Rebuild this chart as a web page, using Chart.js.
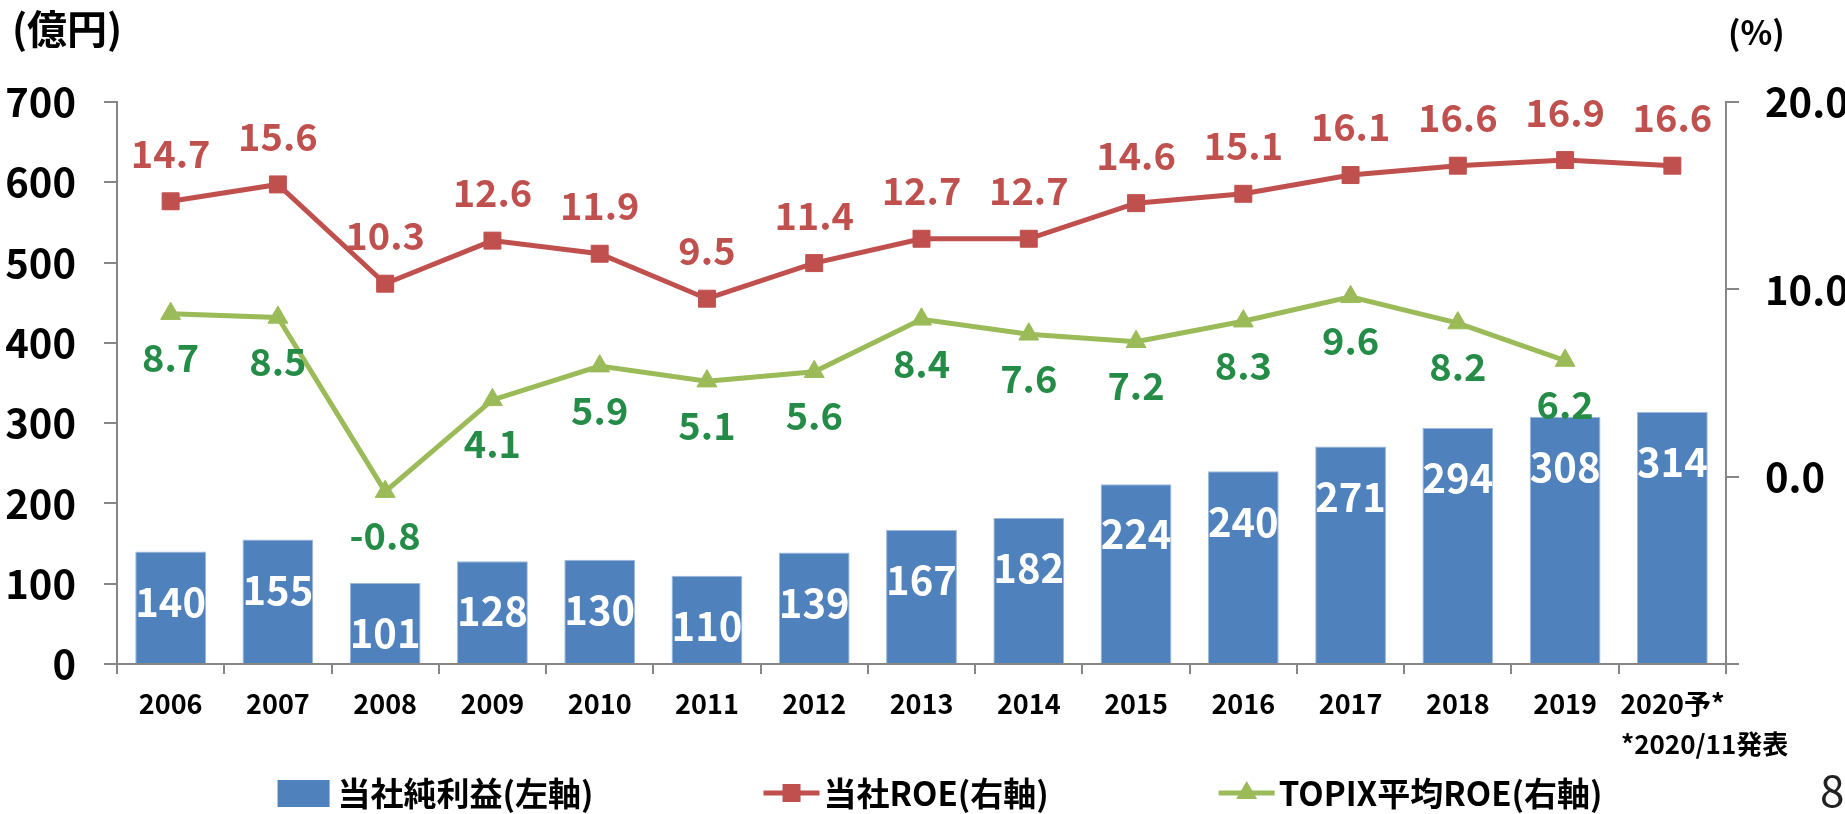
<!DOCTYPE html>
<html>
<head>
<meta charset="utf-8">
<script src="https://cdn.jsdelivr.net/npm/chart.js@4.4.0/dist/chart.umd.min.js"></script>
<style>
    body { margin: 0; background: #fff; }
</style>
</head>
<body>
<canvas id="roeChart" width="1845" height="814"></canvas>
<script>
const years = ["2006", "2007", "2008", "2009", "2010", "2011", "2012", "2013",
    "2014", "2015", "2016", "2017", "2018", "2019", "2020予*"];
const netIncome = [140, 155, 101, 128, 130, 110, 139, 167, 182, 224, 240, 271, 294, 308, 314];
const companyRoe = [14.7, 15.6, 10.3, 12.6, 11.9, 9.5, 11.4, 12.7, 12.7, 14.6, 15.1, 16.1, 16.6, 16.9, 16.6];
const topixRoe = [8.7, 8.5, -0.8, 4.1, 5.9, 5.1, 5.6, 8.4, 7.6, 7.2, 8.3, 9.6, 8.2, 6.2, null];
const legendLabels = ["当社純利益(左軸)", "当社ROE(右軸)", "TOPIX平均ROE(右軸)"];

const FONT = '"Noto Sans CJK JP", "Noto Sans", sans-serif';
const BLUE = "#4F81BD";
const RED = "#C0504D";
const GREEN = "#9BBB59";
const GREEN_TEXT = "#248C46";
const AXIS = "#868686";

// labels on each point: [font size, colour, vertical offset, formatter]
const valueLabels = [
    { size: 40, color: "#ffffff", dy: 50, fmt: (v) => String(v) },
    { size: 38, color: RED, dy: -48, fmt: (v) => v.toFixed(1) },
    { size: 38, color: GREEN_TEXT, dy: 44, fmt: (v) => v.toFixed(1) },
];

const valueLabelPlugin = {
    id: "valueLabels",
    afterDatasetsDraw(chart) {
        const ctx = chart.ctx;
        ctx.save();
        ctx.textAlign = "center";
        ctx.textBaseline = "middle";
        chart.data.datasets.forEach((ds, i) => {
            const cfg = valueLabels[i];
            const meta = chart.getDatasetMeta(i);
            ctx.font = `bold ${cfg.size}px ${FONT}`;
            ctx.fillStyle = cfg.color;
            meta.data.forEach((el, j) => {
                const v = ds.data[j];
                if (v === null || v === undefined) return;
                ctx.fillText(cfg.fmt(v), el.x, el.y + cfg.dy);
            });
        });
        ctx.restore();
    },
};

// unit titles, footnote and the spread-out legend along the bottom
const extrasPlugin = {
    id: "extras",
    afterDraw(chart) {
        const ctx = chart.ctx;
        const area = chart.chartArea;
        ctx.save();
        ctx.fillStyle = "#000";
        ctx.textBaseline = "middle";

        ctx.font = `bold 40px ${FONT}`;
        ctx.textAlign = "left";
        ctx.fillText("(億円)", 12, 29);
        ctx.font = `bold 33px ${FONT}`;
        ctx.fillText("(%)", area.right + 2, 32);

        ctx.font = `bold 26px ${FONT}`;
        ctx.fillText("*2020/11発表", 1621, 744);

        ctx.font = `44px ${FONT}`;
        ctx.fillStyle = "#222";
        ctx.fillText("8", 1820, 790);

        // legend
        const y = 793;
        const gap = 170;
        const markW = 56;
        ctx.font = `bold 33px ${FONT}`;
        const widths = legendLabels.map((t) => markW + 4 + ctx.measureText(t).width);
        const total = widths.reduce((a, b) => a + b, 0) + gap * (widths.length - 1);
        let x = 940 - total / 2;
        legendLabels.forEach((text, i) => {
            if (i === 0) {
                ctx.fillStyle = BLUE;
                ctx.fillRect(x, y - 13, 52, 27);
            } else {
                const color = i === 1 ? RED : GREEN;
                ctx.strokeStyle = color;
                ctx.fillStyle = color;
                ctx.lineWidth = 5;
                ctx.beginPath();
                ctx.moveTo(x, y);
                ctx.lineTo(x + markW, y);
                ctx.stroke();
                const cx = x + markW / 2;
                ctx.beginPath();
                if (i === 1) {
                    ctx.rect(cx - 9, y - 9, 18, 18);
                } else {
                    ctx.moveTo(cx, y - 12);
                    ctx.lineTo(cx + 10.5, y + 6);
                    ctx.lineTo(cx - 10.5, y + 6);
                    ctx.closePath();
                }
                ctx.fill();
            }
            ctx.fillStyle = "#000";
            ctx.fillText(text, x + markW + 4, y);
            x += widths[i] + gap;
        });
        ctx.restore();
    },
};

const ctx = document.getElementById("roeChart").getContext("2d");

new Chart(ctx, {
    type: "bar",
    data: {
        labels: years,
        datasets: [
            {
                type: "bar",
                label: legendLabels[0],
                data: netIncome,
                yAxisID: "y",
                backgroundColor: BLUE,
                borderColor: "#9DB8DA",
                borderWidth: 1,
                barPercentage: 0.66,
                categoryPercentage: 1.0,
                order: 3,
            },
            {
                type: "line",
                label: legendLabels[1],
                data: companyRoe,
                yAxisID: "y1",
                borderColor: RED,
                backgroundColor: RED,
                borderWidth: 5,
                pointStyle: "rect",
                pointRadius: 12,
                pointBorderWidth: 1,
                tension: 0,
                order: 1,
            },
            {
                type: "line",
                label: legendLabels[2],
                data: topixRoe,
                yAxisID: "y1",
                borderColor: GREEN,
                backgroundColor: GREEN,
                borderWidth: 5,
                pointStyle: "triangle",
                pointRadius: 11.5,
                pointBorderWidth: 1,
                tension: 0,
                order: 2,
            },
        ],
    },
    options: {
        responsive: false,
        animation: false,
        layout: { padding: { top: 102, left: 0, right: 0, bottom: 0 } },
        plugins: {
            legend: { display: false },
            tooltip: { enabled: false },
        },
        scales: {
            x: {
                grid: {
                    offset: true,
                    drawOnChartArea: false,
                    tickLength: 10,
                    color: AXIS,
                    lineWidth: 2,
                },
                border: { color: AXIS, width: 2 },
                ticks: {
                    color: "#000",
                    padding: 14,
                    maxRotation: 0,
                    autoSkip: false,
                    font: { family: FONT, size: 27, weight: "bold" },
                },
                afterFit(scale) {
                    scale.height = 150;
                },
            },
            y: {
                position: "left",
                min: 0,
                max: 700,
                grid: {
                    drawOnChartArea: false,
                    tickLength: 13,
                    color: AXIS,
                    lineWidth: 2,
                },
                border: { color: AXIS, width: 2 },
                ticks: {
                    stepSize: 100,
                    color: "#000",
                    padding: 28,
                    font: { family: FONT, size: 40, weight: "bold" },
                },
                afterFit(scale) {
                    scale.width = 117;
                },
            },
            y1: {
                position: "right",
                min: -10,
                max: 20,
                grid: {
                    drawOnChartArea: false,
                    tickLength: 13,
                    color: AXIS,
                    lineWidth: 2,
                },
                border: { color: AXIS, width: 2 },
                ticks: {
                    stepSize: 10,
                    color: "#000",
                    padding: 26,
                    font: { family: FONT, size: 40, weight: "bold" },
                    callback: (v) => (v < 0 ? "" : v.toFixed(1)),
                },
                afterFit(scale) {
                    scale.width = 119;
                },
            },
        },
    },
    plugins: [valueLabelPlugin, extrasPlugin],
});
</script>
</body>
</html>
